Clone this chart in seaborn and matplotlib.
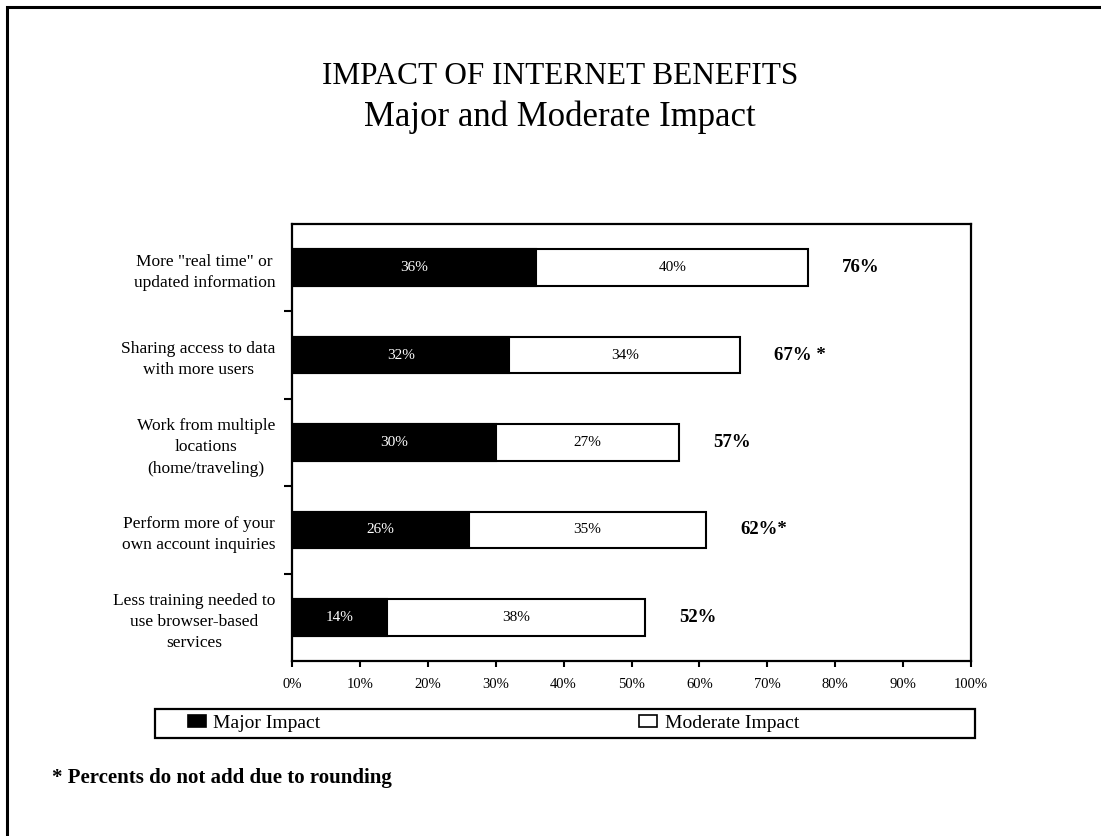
import matplotlib
matplotlib.use('Agg')
import matplotlib.pyplot as plt
import seaborn as sns
import pandas as pd
from matplotlib.patches import Patch, Rectangle

# values
benefits = ['More "real time" or\nupdated information',
            'Sharing access to data\nwith more users',
            'Work from multiple\nlocations\n(home/traveling)',
            'Perform more of your\nown account inquiries',
            'Less training needed to\nuse browser-based\nservices']
major = [36, 32, 30, 26, 14]
moderate = [40, 34, 27, 35, 38]
total_labels = ['76%', '67% *', '57%', '62%*', '52%']
x_ticks = [0, 10, 20, 30, 40, 50, 60, 70, 80, 90, 100]
series = ['Major Impact', 'Moderate Impact']

sns.set_style('ticks')
plt.rcParams['font.family'] = ['Liberation Serif', 'DejaVu Serif']
plt.rcParams['text.color'] = 'black'
plt.rcParams['xtick.color'] = 'black'
plt.rcParams['ytick.color'] = 'black'
plt.rcParams['axes.labelcolor'] = 'black'

df = pd.DataFrame({'benefit': benefits, 'major': major, 'moderate': moderate})
df['total'] = df['major'] + df['moderate']

W, H = 1101, 836
fig = plt.figure(figsize=(W / 100, H / 100), dpi=100)
ax = fig.add_axes([292 / W, 1 - 661 / H, 679 / W, 437 / H])

# stacked bars: full length in white, major part in black on top
sns.barplot(data=df, x='total', y='benefit', color='white', edgecolor='black',
            linewidth=1.5, width=0.42, saturation=1, ax=ax)
sns.barplot(data=df, x='major', y='benefit', color='black', edgecolor='black',
            linewidth=1.5, width=0.42, saturation=1, ax=ax)

for i, row in df.iterrows():
    ax.text(row['major'] / 2, i, f"{row['major']}%", color='white',
            ha='center', va='center', fontsize=11)
    ax.text(row['major'] + row['moderate'] / 2, i, f"{row['moderate']}%",
            color='black', ha='center', va='center', fontsize=11)
    ax.text(row['total'] + 5, i, total_labels[i], fontweight='bold',
            ha='left', va='center', fontsize=13.5)

ax.set_xlim(0, 100)
ax.set_ylim(4.5, -0.5)
ax.set_xticks(x_ticks)
ax.set_xticklabels([f'{v}%' for v in x_ticks], fontsize=10.5)
ax.set_yticks(range(len(benefits)))
ax.set_yticklabels(benefits, fontsize=12.5)
for lab in ax.get_yticklabels():
    lab.set_multialignment('center')
    lab.set_linespacing(1.45)
ax.set_yticks([0.5, 1.5, 2.5, 3.5], minor=True)
ax.tick_params(axis='y', which='major', length=0, pad=12)
ax.tick_params(axis='y', which='minor', length=6, width=1.5, direction='out')
ax.tick_params(axis='x', length=4, width=1.5, direction='out', pad=8)
ax.set_xlabel('')
ax.set_ylabel('')
for s in ax.spines.values():
    s.set_visible(True)
    s.set_linewidth(1.6)
    s.set_color('black')

# titles
fig.text(560 / W, 1 - 84 / H, 'IMPACT OF INTERNET BENEFITS', ha='center',
         va='baseline', fontsize=22.5)
fig.text(560 / W, 1 - 126 / H, 'Major and Moderate Impact', ha='center',
         va='baseline', fontsize=25)

# legend in a wide box under the axis
fig.add_artist(Rectangle((155 / W, 1 - 738 / H), 820 / W, 29 / H,
                         transform=fig.transFigure, fill=False,
                         edgecolor='black', linewidth=1.6))
handles = [Patch(facecolor='black', edgecolor='black', linewidth=1.2),
           Patch(facecolor='white', edgecolor='black', linewidth=1.2)]
fig.legend(handles=handles, labels=series, ncol=2, loc='center left',
           bbox_to_anchor=(188 / W, 1 - 723.5 / H), frameon=False,
           fontsize=14, handlelength=0.9, handleheight=0.6,
           handletextpad=0.4, columnspacing=16.4, borderpad=0,
           borderaxespad=0)

fig.text(52 / W, 1 - 783 / H, '* Percents do not add due to rounding',
         fontweight='bold', fontsize=15, va='baseline')

# outer frame, cut off at right and bottom like the original
fig.add_artist(Rectangle((7 / W, -0.2), 1.5, 1.2 - 7 / H,
                         transform=fig.transFigure, fill=False,
                         edgecolor='black', linewidth=2.2))

fig.savefig('out.png', dpi=100)
